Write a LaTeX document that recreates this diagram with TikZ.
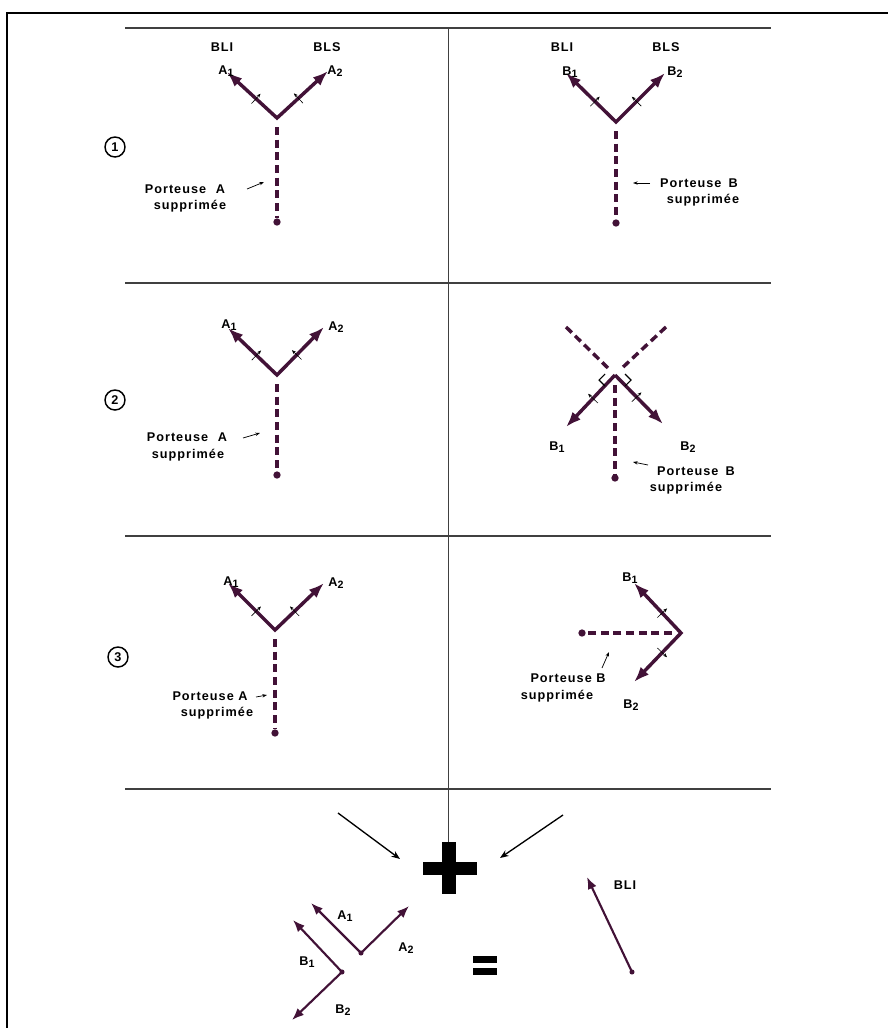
\documentclass[tikz,border=0pt]{standalone}
\usepackage{fontspec}
\setmainfont{Liberation Sans}
\newfontfamily\labfont{Liberation Sans Bold}[LetterSpace=8]
\usetikzlibrary{arrows.meta,calc}
\definecolor{vecc}{RGB}{66,18,55}
\newcommand\lsub[1]{\raisebox{-1.3pt}{\fontsize{8}{8}\selectfont #1}}
\newcommand\mytick[4]{% #1 centre, #2 tip, #3 fraction, #4 angle of arrow end
  \coordinate (tm) at ($(#1)!#3!(#2)$);
  \draw[ticksty] ($(tm)!-5pt!#4:(#2)$) -- ($(tm)!5pt!#4:(#2)$);}
\begin{document}
\begin{tikzpicture}[x=0.75pt,y=-0.75pt,
  vec/.style={draw=vecc,line width=2.6pt,line join=miter,>={Latex[length=11.5pt,width=8.5pt]}},
  thinvec/.style={draw=vecc,line width=1.6pt,line join=miter,>={Latex[length=9pt,width=7pt]}},
  carrier/.style={draw=vecc,line width=2.6pt,dash pattern=on 6pt off 3.5pt},
  dotc/.style={circle,fill=vecc,inner sep=0pt,minimum size=5.5pt},
  sdot/.style={circle,fill=vecc,inner sep=0pt,minimum size=3.8pt},
  lab/.style={font=\labfont\fontsize{9.5}{11}\selectfont,inner sep=0pt},
  ticksty/.style={draw=black,line width=0.45pt,-{Stealth[length=3pt,width=2.5pt]}},
  ptr/.style={draw=black,line width=0.55pt,-{Stealth[length=3.5pt,width=2.5pt]}},
  rule/.style={draw=black!75,line width=0.8pt},
  num/.style={circle,draw,line width=1.1pt,minimum size=15pt,inner sep=0pt,font=\bfseries\fontsize{9.5}{10}\selectfont},
  bigarrow/.style={draw=black,line width=1pt,-{Stealth[length=6.5pt,width=5pt]}}
]
\useasboundingbox (0,0) rectangle (888,1028);
% outer frame
\draw[line width=1.6pt] (888,13) -- (7,13) -- (7,1028);
% row rules
\foreach \yy in {28,283,536,789} \draw[rule] (125,\yy) -- (771,\yy);
% plus sign and vertical divider
\coordinate (plustop) at (448.5,842);
\draw[rule] (448.5,28) -- (plustop);
\fill (423,862) rectangle (477,875);
\fill (442,842) rectangle (456,894);
\coordinate (plusL) at (400,859);
\coordinate (plusR) at (500,858);
\coordinate (fromL) at (338,813);
\coordinate (fromR) at (563,815);
\draw[bigarrow] (fromL) -- (plusL);
\draw[bigarrow] (fromR) -- (plusR);
% equals
\fill (473,956) rectangle (497,963);
\fill (473,968) rectangle (497,975);

% circled numbers
\node[num] (n1) at (115,147) {1};
\node[num] (n2) at (115,400) {2};
\node[num] (n3) at (118,657) {3};

% ===== Panel 1 left
\coordinate (C1) at (277,118);
\coordinate (P1a) at (227,72);
\coordinate (P1b) at (328,71);
\draw[vec,<->] (P1a) -- (C1) -- (P1b);
\coordinate (C1s) at (277,127);
\node[dotc] (D1) at (277,222) {};
\draw[carrier] (C1s) -- (D1);
\mytick{C1}{P1a}{0.42}{-90}
\mytick{C1}{P1b}{0.42}{90}
\node[lab] (bli1) at (222,47) {BLI};
\node[lab] (bls1) at (327,47) {BLS};
\node[lab] (a1p1) at (226,71) {A\lsub{1}};
\node[lab] (a2p1) at (335,71) {A\lsub{2}};
\node[lab] (pa1) at (185,189) {Porteuse\hspace{4pt} A};
\node[lab] (sa1) at (190,206) {supprimée};
\draw[ptr] (247,189) -- (264,182);

% ===== Panel 1 right
\coordinate (C2) at (616,122);
\coordinate (P2a) at (566,73);
\coordinate (P2b) at (665,73);
\draw[vec,<->] (P2a) -- (C2) -- (P2b);
\coordinate (C2s) at (616,131);
\node[dotc] (D2) at (616,223) {};
\draw[carrier] (C2s) -- (D2);
\mytick{C2}{P2a}{0.42}{-90}
\mytick{C2}{P2b}{0.42}{90}
\node[lab] (bli2) at (562,47) {BLI};
\node[lab] (bls2) at (666,47) {BLS};
\node[lab] (b1p1) at (570,72) {B\lsub{1}};
\node[lab] (b2p1) at (675,72) {B\lsub{2}};
\node[lab] (pb1) at (699,183) {Porteuse\hspace{2pt} B};
\node[lab] (sb1) at (703,200) {supprimée};
\draw[ptr] (650,183) -- (633,183);

% ===== Panel 2 left
\coordinate (C3) at (277,375);
\coordinate (P3a) at (228,328);
\coordinate (P3b) at (324,327);
\draw[vec,<->] (P3a) -- (C3) -- (P3b);
\coordinate (C3s) at (277,384);
\node[dotc] (D3) at (277,475) {};
\draw[carrier] (C3s) -- (D3);
\mytick{C3}{P3a}{0.42}{-90}
\mytick{C3}{P3b}{0.42}{90}
\node[lab] (a1p2) at (229,325) {A\lsub{1}};
\node[lab] (a2p2) at (336,327) {A\lsub{2}};
\node[lab] (pa2) at (187,437) {Porteuse\hspace{4pt} A};
\node[lab] (sa2) at (188,455) {supprimée};
\draw[ptr] (243,438) -- (260,433);

% ===== Panel 2 right
\coordinate (C4) at (615,375);
\coordinate (Q4a) at (566,327);
\coordinate (Q4b) at (666,327);
\coordinate (Q4ae) at (609,369);
\coordinate (Q4be) at (621,369);
\draw[carrier] (Q4a) -- (Q4ae);
\draw[carrier] (Q4b) -- (Q4be);
\coordinate (P4a) at (566,427);
\coordinate (P4b) at (663,424);
\draw[vec,->] (C4) -- (P4a);
\draw[vec,->] (C4) -- (P4b);
\coordinate (C4s) at (615,385);
\node[dotc] (D4) at (615,478) {};
\draw[carrier] (C4s) -- (D4);
\draw[line width=0.8pt] (605,374) -- (599,380) -- (605,386);
\draw[line width=0.8pt] (625,374) -- (631,380) -- (625,386);
\mytick{C4}{P4a}{0.45}{-90}
\mytick{C4}{P4b}{0.45}{90}
\node[lab] (b1p2) at (557,447) {B\lsub{1}};
\node[lab] (b2p2) at (688,447) {B\lsub{2}};
\node[lab] (pb2) at (696,471) {Porteuse\hspace{2pt} B};
\node[lab] (sb2) at (686,488) {supprimée};
\draw[ptr] (648,465) -- (633,462);

% ===== Panel 3 left
\coordinate (C5) at (275,630);
\coordinate (P5a) at (228,583);
\coordinate (P5b) at (324,583);
\draw[vec,<->] (P5a) -- (C5) -- (P5b);
\coordinate (C5s) at (275,639);
\node[dotc] (D5) at (275,733) {};
\draw[carrier] (C5s) -- (D5);
\mytick{C5}{P5a}{0.4}{-90}
\mytick{C5}{P5b}{0.4}{90}
\node[lab] (a1p3) at (231,582) {A\lsub{1}};
\node[lab] (a2p3) at (336,583) {A\lsub{2}};
\node[lab] (pa3) at (210,696) {Porteuse A};
\node[lab] (sa3) at (217,713) {supprimée};
\draw[ptr] (256,697) -- (267,695);

% ===== Panel 3 right
\coordinate (C6) at (681,633);
\coordinate (P6a) at (634,583);
\coordinate (P6b) at (634,682);
\draw[vec,<->] (P6a) -- (C6) -- (P6b);
\coordinate (C6s) at (672,633);
\node[dotc] (D6) at (582,633) {};
\draw[carrier] (C6s) -- (D6);
\mytick{C6}{P6a}{0.4}{-90}
\mytick{C6}{P6b}{0.4}{90}
\node[lab] (b1p3) at (630,578) {B\lsub{1}};
\node[lab] (b2p3) at (631,705) {B\lsub{2}};
\node[lab] (pb3) at (568,678) {Porteuse B};
\node[lab] (sb3) at (557,696) {supprimée};
\draw[ptr] (602,668) -- (609,652);

% ===== Bottom: sum
\node[sdot] (OA) at (361,953) {};
\coordinate (RA1) at (311,903);
\coordinate (RA2) at (409,906);
\draw[thinvec,<->] (RA1) -- (OA.center) -- (RA2);
\node[sdot] (OB) at (342,972) {};
\coordinate (RB1) at (293,920);
\coordinate (RB2) at (292,1020);
\draw[thinvec,<->] (RB1) -- (OB.center) -- (RB2);
\node[lab] (a1s) at (345,916) {A\lsub{1}};
\node[lab] (a2s) at (406,948) {A\lsub{2}};
\node[lab] (b1s) at (307,962) {B\lsub{1}};
\node[lab] (b2s) at (343,1010) {B\lsub{2}};
\node[sdot] (OR) at (632,972) {};
\coordinate (RR) at (587,877);
\draw[thinvec,->] (OR.center) -- (RR);
\node[lab] (blir) at (625,885) {BLI};
\end{tikzpicture}
\end{document}
